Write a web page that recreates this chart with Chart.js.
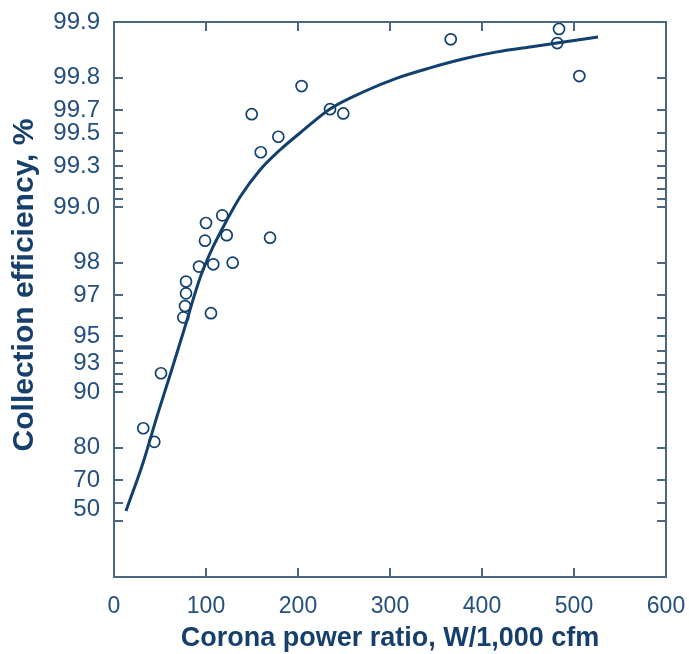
<!DOCTYPE html>
<html>
<head>
<meta charset="utf-8">
<script src="https://cdn.jsdelivr.net/npm/chart.js@4.4.1/dist/chart.umd.min.js"></script>
<style>
  html, body { margin: 0; padding: 0; background: #ffffff; }
  #wrap { width: 689px; height: 654px; position: relative; }
</style>
</head>
<body>
<div id="wrap"><canvas id="c" width="689" height="654"></canvas></div>
<script>
// ---- Data ----
// Measured points: corona power ratio (W/1,000 cfm) and collection efficiency (%)
const pointPower = [31.8, 43.8, 51.1, 75.3, 77.2, 78.3, 78.3, 92.4, 98.9, 100, 105.4, 107.9, 117.7, 122.5, 129, 149.7, 159.5, 169.6, 178.6, 203.9, 234.8, 249.2, 366, 481.8, 483.7, 505.8];
const pointEfficiency = [84.3, 81.4, 92.08, 96.05, 96.57, 97.07, 97.47, 97.9, 98.48, 98.78, 96.25, 97.96, 98.89, 98.58, 98.0, 99.685, 99.494, 98.535, 99.583, 99.778, 99.704, 99.688, 99.876, 99.87, 99.891, 99.804];

// Fitted curve
const curvePower = [13, 31.5, 47.8, 62, 76.1, 93.5, 107.6, 122.8, 137, 158.7, 180.4, 202.2, 234.8, 270.7, 307.6, 343.5, 379.3, 416.3, 452.2, 481.5, 526.1];
const curveEfficiency = [56.0, 75.8, 87.0, 92.2, 95.38, 97.58, 98.355, 98.825, 99.117, 99.369, 99.508, 99.602, 99.705, 99.761, 99.799, 99.823, 99.8415, 99.855, 99.8635, 99.87, 99.8795];

// Axis ticks
const xTickValues = [0, 100, 200, 300, 400, 500, 600];
const yTickLabels = ['99.9', '99.8', '99.7', '99.5', '99.3', '99.0', '98', '97', '95', '93', '90', '80', '70', '50'];
const yTickLabelAt = [99.9, 99.8, 99.7, 99.6, 99.4, 99.0, 98, 97, 95, 93, 90, 80, 70, 57];
const yTickMarks = [99.8, 99.7, 99.6, 99.5, 99.4, 99.3, 99.2, 99.1, 99.0, 98, 97, 96, 95, 94, 93, 92, 91, 90, 80, 70, 60, 50];
const xTickMarks = [100, 200, 300, 400, 500];

const xTitle = 'Corona power ratio, W/1,000 cfm';
const yTitle = 'Collection efficiency, %';

// ---- Helpers ----
const pen = e => +(100 - e).toFixed(6); // penetration (%) used on the log axis
const TEXT = '#244f7e';
const TITLE = '#173f6c';
const FRAME = '#4a6680';
const NAVY = '#12406e';

const noPad = s => { s.paddingLeft = 0; s.paddingRight = 0; s.paddingTop = 0; s.paddingBottom = 0; };

const framePlugin = {
  id: 'frameTicks',
  afterDatasetsDraw(chart) {
    const { ctx, chartArea: a, scales: { x, y } } = chart;
    ctx.save();
    ctx.strokeStyle = FRAME;
    ctx.lineWidth = 2;
    ctx.strokeRect(a.left, a.top, a.right - a.left, a.bottom - a.top);
    const L = 9;
    ctx.beginPath();
    xTickMarks.forEach(v => {
      const px = Math.round(x.getPixelForValue(v));
      ctx.moveTo(px, a.bottom); ctx.lineTo(px, a.bottom - L);
      ctx.moveTo(px, a.top); ctx.lineTo(px, a.top + L);
    });
    yTickMarks.forEach(v => {
      const py = Math.round(y.getPixelForValue(pen(v)));
      ctx.moveTo(a.left, py); ctx.lineTo(a.left + L, py);
      ctx.moveTo(a.right, py); ctx.lineTo(a.right - L, py);
    });
    ctx.stroke();
    ctx.restore();
  },
  afterDraw(chart) {
    const { ctx } = chart;
    ctx.save();
    ctx.fillStyle = TITLE;
    ctx.font = 'bold 30px "Liberation Sans", Arial, sans-serif';
    ctx.textAlign = 'center';
    ctx.textBaseline = 'alphabetic';
    ctx.translate(33, 285);
    ctx.rotate(-Math.PI / 2);
    ctx.fillText(yTitle, 0, 0);
    ctx.restore();
  }
};

new Chart(document.getElementById('c'), {
  type: 'scatter',
  data: {
    datasets: [
      {
        label: 'Measured',
        data: pointPower.map((p, i) => ({ x: p, y: pen(pointEfficiency[i]) })),
        pointStyle: 'circle',
        pointRadius: 5.5,
        pointBorderWidth: 1.7,
        borderColor: NAVY,
        backgroundColor: 'rgba(0,0,0,0)',
        showLine: false,
        order: 1
      },
      {
        label: 'Fit',
        data: curvePower.map((p, i) => ({ x: p, y: pen(curveEfficiency[i]) })),
        showLine: true,
        borderColor: NAVY,
        borderWidth: 3,
        pointRadius: 0,
        cubicInterpolationMode: 'monotone',
        fill: false,
        order: 2
      }
    ]
  },
  options: {
    responsive: false,
    animation: false,
    events: [],
    layout: { padding: { left: 0, right: 23, top: 22, bottom: 0 } },
    plugins: { legend: { display: false }, tooltip: { enabled: false } },
    scales: {
      x: {
        type: 'linear',
        min: 0,
        max: 600,
        afterBuildTicks: s => { s.ticks = xTickValues.map(v => ({ value: v })); },
        afterFit: s => { s.height = 77; noPad(s); },
        grid: { display: false, drawTicks: false },
        border: { display: false },
        ticks: {
          color: TEXT,
          padding: 16,
          maxRotation: 0,
          font: { family: '"Liberation Sans", Arial, sans-serif', size: 23 }
        },
        title: {
          display: true,
          text: xTitle,
          color: TITLE,
          padding: { top: 0, bottom: 1 },
          font: { family: '"Liberation Sans", Arial, sans-serif', size: 27, weight: 'bold', lineHeight: 1.1 }
        }
      },
      y: {
        type: 'logarithmic',
        reverse: true,
        min: 0.1,
        max: 100,
        afterBuildTicks: s => { s.ticks = yTickLabelAt.map(v => ({ value: pen(v) })); },
        afterFit: s => { s.width = 114; noPad(s); },
        grid: { display: false, drawTicks: false },
        border: { display: false },
        ticks: {
          color: TEXT,
          padding: 14,
          autoSkip: false,
          font: { family: '"Liberation Sans", Arial, sans-serif', size: 24 },
          callback: function (value, index) { return yTickLabels[index]; }
        }
      }
    }
  },
  plugins: [framePlugin]
});
</script>
</body>
</html>
